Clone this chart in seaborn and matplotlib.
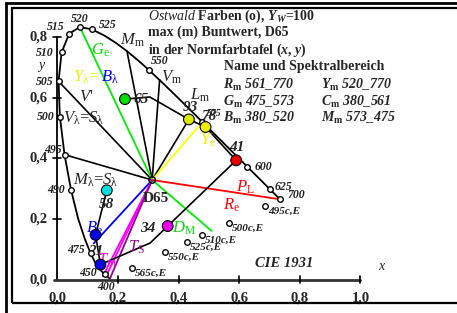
import matplotlib
matplotlib.use("Agg")
import matplotlib.pyplot as plt
import pandas as pd
import seaborn as sns
from matplotlib.patches import Rectangle

# CIE 1931 spectral locus (nm, x, y)
wavelengths = [380, 385, 390, 395, 400, 405, 410, 415, 420, 425, 430, 435, 440,
               445, 450, 455, 460, 465, 470, 475, 480, 485, 490, 495, 500, 505,
               510, 515, 520, 525, 530, 535, 540, 545, 550, 555, 560, 565, 570,
               575, 580, 585, 590, 595, 600, 605, 610, 615, 620, 625, 630, 635,
               640, 650, 660, 680, 700]
locus_x = [0.1741, 0.1740, 0.1738, 0.1736, 0.1733, 0.1730, 0.1726, 0.1721, 0.1714,
           0.1703, 0.1689, 0.1669, 0.1644, 0.1611, 0.1566, 0.1510, 0.1440, 0.1355,
           0.1241, 0.1096, 0.0913, 0.0687, 0.0454, 0.0235, 0.0082, 0.0039, 0.0139,
           0.0389, 0.0743, 0.1142, 0.1547, 0.1929, 0.2296, 0.2658, 0.3016, 0.3373,
           0.3731, 0.4087, 0.4441, 0.4788, 0.5125, 0.5448, 0.5752, 0.6029, 0.6270,
           0.6482, 0.6658, 0.6801, 0.6915, 0.7006, 0.7079, 0.7140, 0.7190, 0.7260,
           0.7300, 0.7334, 0.7347]
locus_y = [0.0050, 0.0050, 0.0049, 0.0049, 0.0048, 0.0048, 0.0048, 0.0048, 0.0051,
           0.0058, 0.0069, 0.0086, 0.0109, 0.0138, 0.0177, 0.0227, 0.0297, 0.0399,
           0.0578, 0.0868, 0.1327, 0.2007, 0.2950, 0.4127, 0.5384, 0.6548, 0.7502,
           0.8120, 0.8338, 0.8262, 0.8059, 0.7816, 0.7543, 0.7243, 0.6923, 0.6589,
           0.6245, 0.5896, 0.5547, 0.5202, 0.4866, 0.4544, 0.4242, 0.3965, 0.3725,
           0.3514, 0.3340, 0.3197, 0.3083, 0.2993, 0.2920, 0.2859, 0.2809, 0.2740,
           0.2700, 0.2666, 0.2653]

marked_wl = [450, 475, 490, 495, 500, 505, 510, 515, 520, 525, 550, 575, 600, 625, 700]

# complementary wavelengths on the purple line
purple_labels = ["495c,E", "500c,E", "510c,E", "525c,E", "550c,E", "565c,E"]
purple_x = [0.685, 0.565, 0.476, 0.427, 0.355, 0.245]
purple_y = [0.243, 0.186, 0.147, 0.123, 0.090, 0.039]

# Ostwald max colours
ost_ids = ["65", "93", "78", "41", "34", "21", "Be", "58"]
ost_x = [0.223, 0.434, 0.489, 0.590, 0.364, 0.142, 0.126, 0.163]
ost_y = [0.596, 0.529, 0.504, 0.394, 0.177, 0.050, 0.148, 0.295]
ost_colors = ["#00dd00", "#dde800", "#f0f000", "#ee0000", "#ee00ee", "#0000ee",
              "#0000ee", "#00e0e0"]

# boundary through the Ostwald colours (with two kinks)
boundary_x = [0.223, 0.305, 0.434, 0.489, 0.590, 0.364, 0.306, 0.142, 0.126, 0.163, 0.223]
boundary_y = [0.596, 0.603, 0.529, 0.504, 0.394, 0.177, 0.121, 0.050, 0.148, 0.295, 0.596]

d65 = (0.3127, 0.3290)

# black rays from D65 to the locus
ray_wl = [495, 505, 540, 555]

# coloured rays from D65: end points
green_x = [0.0743, 0.3127, 0.509]
green_y = [0.8338, 0.3290, 0.161]
color_ray_end_x = [0.4788, 0.7347, 0.120, 0.150, 0.160, 0.174]
color_ray_end_y = [0.5202, 0.2653, 0.120, 0.012, 0.010, 0.005]
color_ray_col = ["#ffff00", "#ff0000", "#0000ff", "#ff00ff", "#ff00ff", "#990099"]

xticks = [0.0, 0.2, 0.4, 0.6, 0.8, 1.0]
yticks = [0.0, 0.2, 0.4, 0.6, 0.8]
tick_labels_x = ["0,0", "0,2", "0,4", "0,6", "0,8", "1,0"]
tick_labels_y = ["0,0", "0,2", "0,4", "0,6", "0,8"]

sns.set_style("white")
plt.rcParams["font.family"] = ["Liberation Serif", "DejaVu Serif"]
plt.rcParams["mathtext.fontset"] = "custom"
plt.rcParams["mathtext.rm"] = "Liberation Serif"
plt.rcParams["mathtext.it"] = "Liberation Serif:italic"
plt.rcParams["mathtext.bf"] = "Liberation Serif:bold"
plt.rcParams["mathtext.bfit"] = "Liberation Serif:italic:bold"

fig = plt.figure(figsize=(4.57, 3.13), dpi=100)
ax = fig.add_axes([0, 0, 1, 1])
ax.set_xlim(-0.1894, 1.3188)
ax.set_ylim(-0.1099, 0.9231)
ax.axis("off")

locus = pd.DataFrame({"wl": wavelengths, "x": locus_x, "y": locus_y})
closed = pd.concat([locus, locus.iloc[[0]]], ignore_index=True)
sns.lineplot(data=closed, x="x", y="y", sort=False, color="black", lw=1.3, ax=ax)

# axes lines and ticks
ax.plot([0, 0], [0, yticks[-1]], color="black", lw=1.3)
ax.plot([-0.01, xticks[-1]], [0, 0], color="#333333", lw=2.0)
for t, lab in zip(xticks, tick_labels_x):
    if t > 0:
        ax.plot([t, t], [-0.012, 0.012], color="black", lw=1.2)
    ax.text(t, -0.062, lab, ha="center", va="center", fontsize=10.5, weight="bold")
for t, lab in zip(yticks, tick_labels_y):
    if t > 0:
        ax.plot([-0.013, 0.013], [t, t], color="black", lw=1.2)
    ax.text(-0.032, t, lab, ha="right", va="center", fontsize=10.5, weight="bold")

# rays
for w in ray_wl:
    r = locus[locus.wl == w].iloc[0]
    ax.plot([d65[0], r.x], [d65[1], r.y], color="black", lw=1.2)
ax.plot([d65[0], ost_x[1]], [d65[1], ost_y[1]], color="black", lw=1.2)
sns.lineplot(x=green_x, y=green_y, sort=False, color="#00ee00", lw=1.3, ax=ax)
for ex, ey, c in zip(color_ray_end_x, color_ray_end_y, color_ray_col):
    ax.plot([d65[0], ex], [d65[1], ey], color=c, lw=1.3)

sns.lineplot(x=boundary_x, y=boundary_y, sort=False, color="black", lw=1.2, ax=ax)

# purple line points
sns.scatterplot(x=purple_x, y=purple_y, s=16, color="white", edgecolor="black",
                linewidth=1.0, zorder=5, ax=ax)
for px, py, lab in zip(purple_x, purple_y, purple_labels):
    ax.text(px + 0.011, py - 0.017, lab, ha="left", va="center", fontsize=8,
            style="italic", weight="bold", color="#222222")

marks = locus[locus.wl.isin(marked_wl)]
sns.scatterplot(data=marks, x="x", y="y", s=16, color="white", edgecolor="black",
                linewidth=1.0, zorder=5, ax=ax)

sns.scatterplot(x=ost_x, y=ost_y, hue=ost_ids, palette=ost_colors, s=60,
                edgecolor="black", linewidth=0.8, legend=False, zorder=6, ax=ax)
ax.scatter([d65[0]], [d65[1]], s=22, facecolor="none", edgecolor="black", lw=1.0, zorder=7)

# wavelength labels
wl_text = [("515", 0.022, 0.835, "right"), ("520", 0.075, 0.859, "center"),
           ("525", 0.137, 0.841, "left"), ("510", -0.014, 0.749, "right"),
           ("505", -0.014, 0.653, "right"), ("500", -0.008, 0.538, "right"),
           ("495", 0.015, 0.428, "right"), ("490", 0.025, 0.296, "right"),
           ("475", 0.089, 0.098, "right"), ("450", 0.131, 0.022, "right"),
           ("400", 0.160, -0.024, "center"), ("550", 0.336, 0.722, "center"),
           ("600", 0.652, 0.372, "left"), ("625", 0.718, 0.307, "left"),
           ("700", 0.758, 0.278, "left")]
for lab, tx, ty, ha in wl_text:
    ax.text(tx, ty, lab, ha=ha, va="center", fontsize=8.5, style="italic",
            weight="bold", color="#222222")
ax.text(0.492, 0.550, "575", ha="left", va="center", fontsize=7, style="italic",
        weight="bold", color="#222222")

# numbers
for lab, tx, ty, ha in [("65", 0.252, 0.596, "left"), ("93", 0.438, 0.568, "center"),
                        ("78", 0.474, 0.540, "left"), ("41", 0.592, 0.435, "center"),
                        ("58", 0.163, 0.247, "center"), ("34", 0.273, 0.170, "left"),
                        ("21", 0.102, 0.094, "left")]:
    ax.text(tx, ty, lab, ha=ha, va="center", fontsize=11, style="italic", weight="bold")

# big labels
big = 12
ax.text(0.111, 0.758, r"$G_\mathrm{e}$", color="#00dd00", fontsize=big, va="center")
ax.text(0.0505, 0.669, r"$Y_\mathrm{\lambda}$=", color="#eeee00", fontsize=big, va="center")
ax.text(0.144, 0.669, r"$B_\mathrm{\lambda}$", color="#0000ff", fontsize=big, va="center")
ax.text(0.071, 0.603, r"$V$'", fontsize=big, va="center")
ax.text(0.018, 0.534, r"$V_\mathrm{\lambda}$=$S_\mathrm{\lambda}$", fontsize=big, va="center")
ax.text(0.052, 0.329, r"$M_\mathrm{\lambda}$=$S_\mathrm{\lambda}$", fontsize=big, va="center")
ax.text(0.207, 0.791, r"$M_\mathrm{m}$", fontsize=big, va="center")
ax.text(0.342, 0.669, r"$V_\mathrm{m}$", fontsize=big, va="center")
ax.text(0.437, 0.608, r"$L_\mathrm{m}$", fontsize=big, va="center")
ax.text(0.471, 0.461, r"$Y_\mathrm{e}$", color="#eeee00", fontsize=big, va="center")
ax.text(0.590, 0.305, r"$P_\mathrm{L}$", color="#ff0000", fontsize=big, va="center")
ax.text(0.547, 0.246, r"$R_\mathrm{e}$", color="#ff0000", fontsize=big, va="center")
ax.text(0.094, 0.171, r"$B_\mathrm{e}$", color="#0000ff", fontsize=big, va="center")
ax.text(0.131, 0.065, r"$T_\mathrm{m}$", color="#ff00ff", fontsize=big, va="center")
ax.text(0.233, 0.107, r"$T_\mathrm{S}$", color="#990099", fontsize=big, va="center")
ax.text(0.378, 0.170, r"$D_\mathrm{M}$", color="#00dd00", fontsize=big, va="center")
ax.text(0.283, 0.269, "D65", fontsize=11, weight="bold", va="center")

ax.text(-0.065, 0.708, "y", fontsize=10, style="italic", va="center")
ax.text(1.058, 0.043, "x", fontsize=10, style="italic", va="center")
ax.text(0.748, 0.055, "CIE 1931", fontsize=10.5, style="italic", weight="bold",
        ha="center", va="center")

# header texts
ax.text(0.299, 0.870, r"$\mathit{Ostwald}$ Farben (o), $\mathbfit{Y}_\mathbfit{W}$=100",
        fontsize=10, weight="bold", va="center")
ax.text(0.299, 0.815, "max (m) Buntwert, D65", fontsize=10, weight="bold", va="center")
ax.text(0.299, 0.758, r"in der Normfarbtafel ($\mathbfit{x}$, $\mathbfit{y}$)",
        fontsize=10, weight="bold", va="center")
ax.text(0.550, 0.703, "Name und Spektralbereich", fontsize=10, weight="bold", va="center")
rows = [(r"$\mathbfit{R}_\mathbf{m}$ 561_770", r"$\mathbfit{Y}_\mathbf{m}$ 520_770"),
        (r"$\mathbfit{G}_\mathbf{m}$ 475_573", r"$\mathbfit{C}_\mathbf{m}$ 380_561"),
        (r"$\mathbfit{B}_\mathbf{m}$ 380_520", r"$\mathbfit{M}_\mathbf{m}$ 573_475")]
for i, (left, right) in enumerate(rows):
    ty = 0.643 - i * 0.055
    ax.text(0.547, ty, left, fontsize=10, weight="bold", style="italic", va="center")
    ax.text(0.870, ty, right, fontsize=10, weight="bold", style="italic", va="center")

# double frame
W, H = 457.0, 313.0
fig.add_artist(Rectangle((5.5 / W, -10 / H), 470 / W, (313 - 3 + 10) / H,
                         transform=fig.transFigure, fill=False, lw=2.0, ec="black"))
fig.add_artist(Rectangle((11.5 / W, (313 - 303) / H), 460 / W, (303 - 8) / H,
                         transform=fig.transFigure, fill=False, lw=1.6, ec="black"))

fig.savefig("out.png", dpi=100)
